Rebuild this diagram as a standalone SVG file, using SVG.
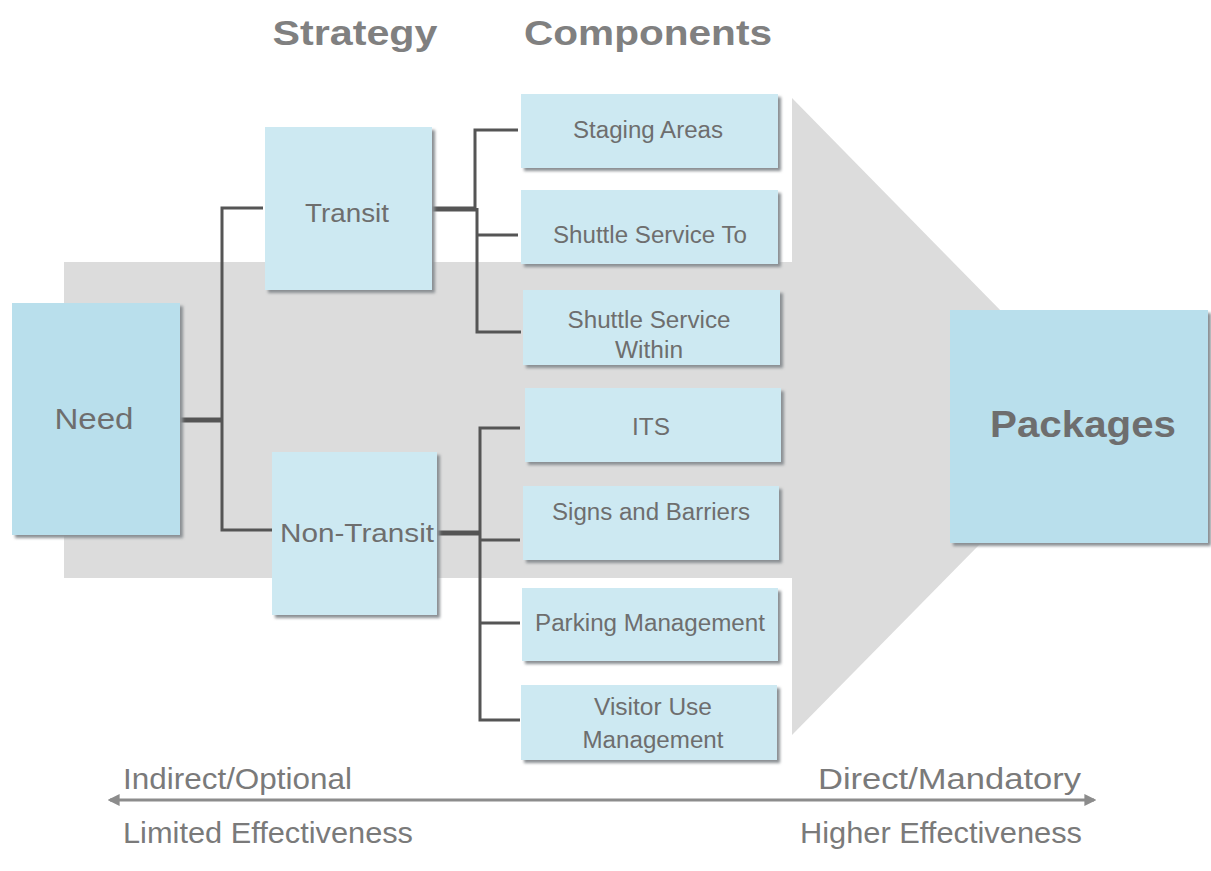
<svg xmlns="http://www.w3.org/2000/svg" width="1211" height="871" viewBox="0 0 1211 871">
<defs>
<filter id="sh" x="-10%" y="-10%" width="130%" height="130%">
<feGaussianBlur stdDeviation="1.5"/>
</filter>
<marker id="ah" viewBox="0 0 10 10" refX="8" refY="5" markerWidth="4" markerHeight="4" orient="auto-start-reverse">
<path d="M0,0 L10,5 L0,10 z" fill="#8c8c8c"/>
</marker>
</defs>
<style>
.sh{fill:#8a8f93;filter:url(#sh);}
.dk{fill:#b9dfec;}
.lt{fill:#cde9f2;}
.t{font-family:"Liberation Sans",Arial,sans-serif;fill:#6e6e6e;text-anchor:middle;}
.h{font-family:"Liberation Sans",Arial,sans-serif;fill:#808080;font-weight:bold;font-size:35px;text-anchor:middle;}
.c{font-size:23px;}
.ax{font-family:"Liberation Sans",Arial,sans-serif;fill:#7a7a7a;font-size:30px;}
.ln{stroke:#555;stroke-width:3;fill:none;}
.lnk{stroke:#555;stroke-width:5;fill:none;}
</style>
<rect width="1211" height="871" fill="#fff"/>
<g id="background">
<rect x="64" y="262" width="730" height="316" fill="#dcdcdc"/>
<polygon points="792,98 1105,417 792,735" fill="#dcdcdc"/>
</g>
<text class="h" x="355" y="45" textLength="165" lengthAdjust="spacingAndGlyphs">Strategy</text>
<text class="h" x="648" y="45" textLength="248" lengthAdjust="spacingAndGlyphs">Components</text>
<g id="connectors">
<path class="lnk" d="M180,420 H222"/>
<path class="ln" d="M263,208 H222 V530 H272"/>
<path class="lnk" d="M432,209 H476"/>
<path class="ln" d="M518,130 H475 V210 M477,208 V332 H521 M477,235 H518"/>
<path class="lnk" d="M437,533 H480"/>
<path class="ln" d="M520,428 H480 V720 H520 M480,540 H520 M480,623 H520"/>
</g>
<g id="need">
<rect class="sh" x="15" y="306" width="168" height="232"/>
<rect class="dk" x="12" y="303" width="168" height="232"/>
<text class="t" x="94" y="429" font-size="29" textLength="79" lengthAdjust="spacingAndGlyphs">Need</text>
</g>
<g id="transit">
<rect class="sh" x="268" y="130" width="167" height="163"/>
<rect class="lt" x="265" y="127" width="167" height="163"/>
<text class="t" x="347" y="222" font-size="26" textLength="84" lengthAdjust="spacingAndGlyphs">Transit</text>
</g>
<g id="non-transit">
<rect class="sh" x="275" y="455" width="165" height="163"/>
<rect class="lt" x="272" y="452" width="165" height="163"/>
<text class="t" x="357" y="542" font-size="26" textLength="154" lengthAdjust="spacingAndGlyphs">Non-Transit</text>
</g>
<g id="staging-areas">
<rect class="sh" x="524" y="97" width="257" height="74"/>
<rect class="lt" x="521" y="94" width="257" height="74"/>
<text class="t c" x="648" y="138" textLength="150" lengthAdjust="spacingAndGlyphs">Staging Areas</text>
</g>
<g id="shuttle-to">
<rect class="sh" x="524" y="193" width="257" height="74"/>
<rect class="lt" x="521" y="190" width="257" height="74"/>
<text class="t c" x="650" y="243" textLength="194" lengthAdjust="spacingAndGlyphs">Shuttle Service To</text>
</g>
<g id="shuttle-within">
<rect class="sh" x="526" y="293" width="257" height="75"/>
<rect class="lt" x="523" y="290" width="257" height="75"/>
<text class="t c" x="649" y="328" textLength="163" lengthAdjust="spacingAndGlyphs">Shuttle Service</text>
<text class="t c" x="649" y="358" textLength="68" lengthAdjust="spacingAndGlyphs">Within</text>
</g>
<g id="its">
<rect class="sh" x="528" y="391" width="256" height="74"/>
<rect class="lt" x="525" y="388" width="256" height="74"/>
<text class="t c" x="651" y="435" textLength="38" lengthAdjust="spacingAndGlyphs">ITS</text>
</g>
<g id="signs">
<rect class="sh" x="526" y="489" width="256" height="74"/>
<rect class="lt" x="523" y="486" width="256" height="74"/>
<text class="t c" x="651" y="520" textLength="198" lengthAdjust="spacingAndGlyphs">Signs and Barriers</text>
</g>
<g id="parking">
<rect class="sh" x="525" y="591" width="256" height="73"/>
<rect class="lt" x="522" y="588" width="256" height="73"/>
<text class="t c" x="650" y="631" textLength="230" lengthAdjust="spacingAndGlyphs">Parking Management</text>
</g>
<g id="visitor">
<rect class="sh" x="524" y="688" width="256" height="75"/>
<rect class="lt" x="521" y="685" width="256" height="75"/>
<text class="t c" x="653" y="715" textLength="118" lengthAdjust="spacingAndGlyphs">Visitor Use</text>
<text class="t c" x="653" y="748" textLength="141" lengthAdjust="spacingAndGlyphs">Management</text>
</g>
<g id="packages">
<rect class="sh" x="953" y="313" width="258" height="233"/>
<rect class="dk" x="950" y="310" width="258" height="233"/>
<text class="t" x="1083" y="437" font-size="37" font-weight="bold" fill="#7a7a7a" textLength="186" lengthAdjust="spacingAndGlyphs">Packages</text>
</g>
<g id="scale">
<path d="M110,800 H1094" stroke="#8c8c8c" stroke-width="3" marker-start="url(#ah)" marker-end="url(#ah)"/>
<text class="ax" x="123" y="789" textLength="229" lengthAdjust="spacingAndGlyphs">Indirect/Optional</text>
<text class="ax" x="123" y="843" textLength="290" lengthAdjust="spacingAndGlyphs">Limited Effectiveness</text>
<text class="ax" x="818" y="789" textLength="263" lengthAdjust="spacingAndGlyphs">Direct/Mandatory</text>
<text class="ax" x="800" y="843" textLength="282" lengthAdjust="spacingAndGlyphs">Higher Effectiveness</text>
</g>
</svg>
